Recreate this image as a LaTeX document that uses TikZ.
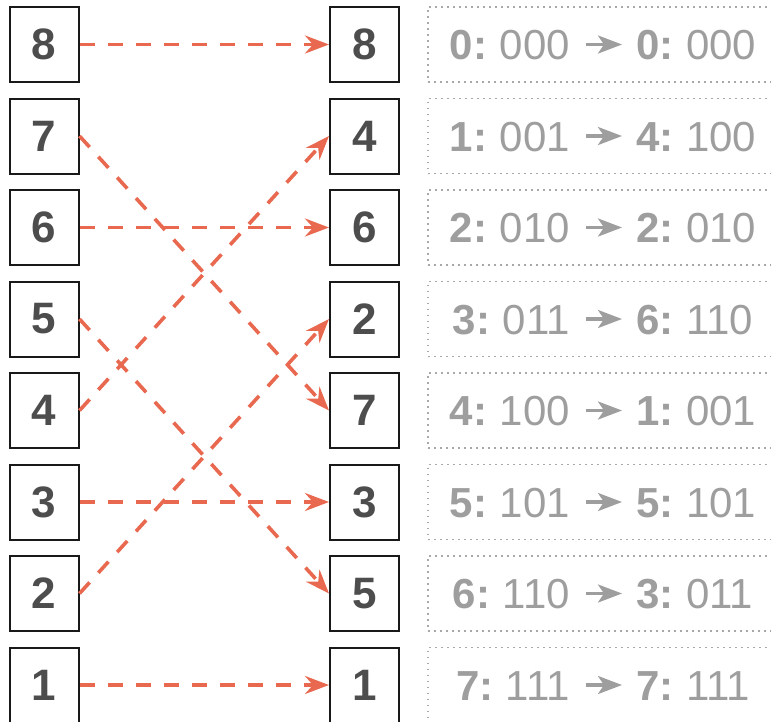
\documentclass[tikz,border=0pt]{standalone}
\usepackage{fontspec}
\setmainfont{Liberation Sans}
\usetikzlibrary{arrows.meta}
\definecolor{arr}{HTML}{E8694F}
\definecolor{dig}{HTML}{4D4D4D}
\definecolor{txt}{HTML}{9E9E9E}
\definecolor{dotc}{HTML}{A8A8A8}
\begin{document}
\begin{tikzpicture}[x=1pt,y=-1pt,
  numbox/.style={draw=black!90, line width=2pt, minimum width=69pt, minimum height=75pt, inner sep=0pt, text=dig, font=\fontsize{44}{44}\selectfont\bfseries},
  link/.style={draw=arr, line width=3.6pt, dash pattern=on 15pt off 13pt, -{Stealth[length=24pt,width=18pt,inset=8pt]}},
  dotbox/.style={draw=dotc, line width=1.6pt, dash pattern=on 1.6pt off 4.4pt, minimum width=360pt, minimum height=75pt, inner sep=0pt},
  maptext/.style={text=txt, inner sep=0pt, font=\fontsize{42}{42}\selectfont},
  maparrow/.style={draw=txt, line width=3.2pt, -{Stealth[length=24pt,width=18pt,inset=6pt]}, shorten <=16pt, shorten >=14pt}
]
\useasboundingbox (0,0) rectangle (771,721);
\clip (0,0) rectangle (771,721);
% left and right boxes
\foreach \i/\r in {1/8,2/4,3/6,4/2,5/7,6/3,7/5,8/1}{
  \pgfmathsetmacro{\yy}{44.5+(\i-1)*91.5}
  \pgfmathtruncatemacro{\ll}{9-\i}
  \node[numbox] (L\i) at (44,\yy) {\ll};
  \node[numbox] (R\i) at (364.5,\yy) {\r};
}
% connectors
\foreach \a/\b in {1/1,2/5,3/3,4/7,5/2,6/6,7/4,8/8}{
  \draw[link] (L\a.east) -- (R\b.west);
}
% mapping table
\foreach \i/\s/\sb/\t/\tb in {0/0/000/0/000,1/1/001/4/100,2/2/010/2/010,3/3/011/6/110,4/4/100/1/001,5/5/101/5/101,6/6/110/3/011,7/7/111/7/111}{
  \pgfmathsetmacro{\yy}{44.5+\i*91.5}
  \node[dotbox] (D\i) at (608,\yy) {};
  \node[maptext, anchor=east] (A\i) at (570,\yy+1) {\textbf{\s:}\hspace{0.3em}\sb};
  \node[maptext, anchor=west] (B\i) at (636,\yy+1) {\textbf{\t:}\hspace{0.3em}\tb};
  \draw[maparrow] (A\i.east |- 0,\yy) -- (B\i.west |- 0,\yy);
}
\end{tikzpicture}
\end{document}
